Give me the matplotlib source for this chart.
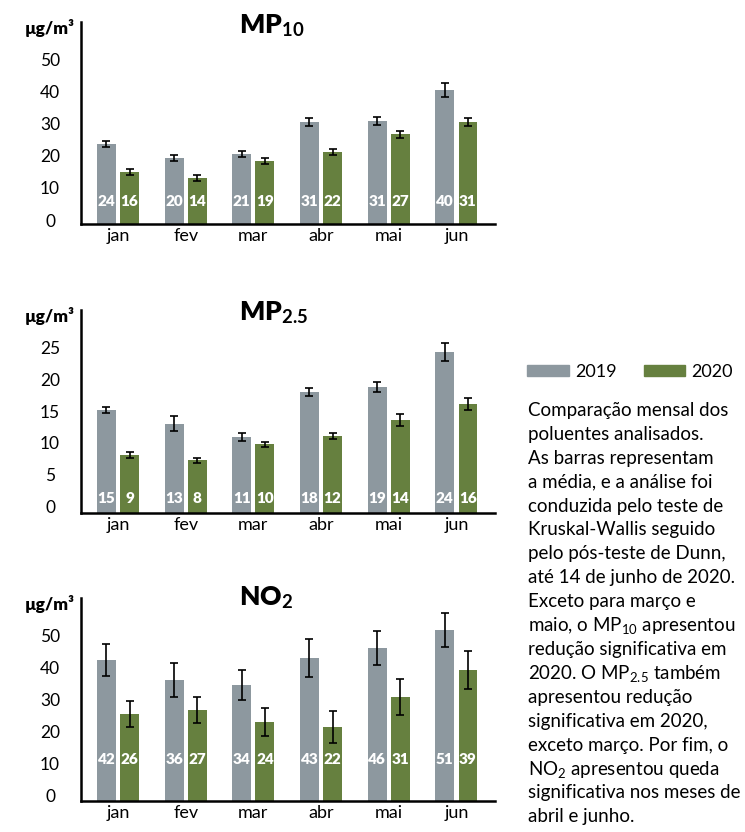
import matplotlib
matplotlib.use("Agg")
import numpy as np
import matplotlib.pyplot as plt
from matplotlib.patches import Patch

plt.rcParams['font.family'] = ['Lato', 'DejaVu Sans']
plt.rcParams['mathtext.fontset'] = 'custom'
plt.rcParams['mathtext.rm'] = 'Lato'
plt.rcParams['mathtext.bf'] = 'Lato:bold'
plt.rcParams['mathtext.it'] = 'Lato:italic'

months = ["jan", "fev", "mar", "abr", "mai", "jun"]
years = ["2019", "2020"]

# MP10 - mean, error, printed value
mp10_2019 = [23.6, 19.3, 20.5, 30.4, 30.7, 40.4]
mp10_2020 = [14.9, 13.0, 18.3, 21.1, 26.7, 30.4]
mp10_err_2019 = [0.9, 0.9, 1.0, 1.35, 1.3, 2.1]
mp10_err_2020 = [0.9, 0.9, 0.85, 0.9, 1.1, 1.2]
mp10_lbl_2019 = [24, 20, 21, 31, 31, 40]
mp10_lbl_2020 = [16, 14, 19, 22, 27, 31]
mp10_ticks = [0, 10, 20, 30, 40, 50]

# MP2.5
mp25_2019 = [15.2, 13.0, 10.9, 18.0, 18.8, 24.3]
mp25_2020 = [8.1, 7.3, 9.8, 11.1, 13.6, 16.1]
mp25_err_2019 = [0.47, 1.15, 0.63, 0.57, 0.81, 1.41]
mp25_err_2020 = [0.52, 0.37, 0.37, 0.45, 0.89, 0.94]
mp25_lbl_2019 = [15, 13, 11, 18, 19, 24]
mp25_lbl_2020 = [9, 8, 10, 12, 14, 16]
mp25_ticks = [0, 5, 10, 15, 20, 25]

# NO2
no2_2019 = [42.4, 36.2, 34.6, 43.0, 46.1, 51.7]
no2_2020 = [25.6, 26.8, 23.1, 21.5, 30.9, 39.3]
no2_err_2019 = [5.0, 5.3, 4.6, 5.9, 5.25, 5.35]
no2_err_2020 = [4.05, 4.15, 4.5, 4.9, 5.6, 6.0]
no2_lbl_2019 = [42, 36, 34, 43, 46, 51]
no2_lbl_2020 = [26, 27, 24, 22, 31, 39]
no2_ticks = [0, 10, 20, 30, 40, 50]

caption_lines = [
    "Comparação mensal dos", "poluentes analisados.", "As barras representam",
    "a média, e a análise foi", "conduzida pelo teste de", "Kruskal-Wallis seguido",
    "pelo pós-teste de Dunn,", "até 14 de junho de 2020.", "Exceto para março e",
    "maio, o MP$_{10}$ apresentou", "redução significativa em", "2020. O MP$_{2.5}$ também",
    "apresentou redução", "significativa em 2020,", "exceto março. Por fim, o",
    "NO$_{2}$ apresentou queda", "significativa nos meses de", "abril e junho.",
]

gray = '#8d989f'
green = '#66803f'

W, H = 745, 832
fig = plt.figure(figsize=(W / 100, H / 100), dpi=100)

panels = [
    dict(title=r"MP$_{\mathbf{10}}$", m=(mp10_2019, mp10_2020), e=(mp10_err_2019, mp10_err_2020),
         lbl=(mp10_lbl_2019, mp10_lbl_2020), ticks=mp10_ticks, ylim=(-1.24, 61.5), label_y=5.6,
         top=22, base=224, title_y=33),
    dict(title=r"MP$_{\mathbf{2.5}}$", m=(mp25_2019, mp25_2020), e=(mp25_err_2019, mp25_err_2020),
         lbl=(mp25_lbl_2019, mp25_lbl_2020), ticks=mp25_ticks, ylim=(-0.94, 30.85), label_y=1.32,
         top=310, base=512.7, title_y=320),
    dict(title=r"NO$_{\mathbf{2}}$", m=(no2_2019, no2_2020), e=(no2_err_2019, no2_err_2020),
         lbl=(no2_lbl_2019, no2_lbl_2020), ticks=no2_ticks, ylim=(-1.47, 61.8), label_y=11.45,
         top=598, base=800.7, title_y=605),
]

x = np.arange(len(months))
bw = 0.28
off = 0.171

for p in panels:
    ax = fig.add_axes([81 / W, 1 - p['base'] / H, (495 - 81) / W, (p['base'] - p['top']) / H])
    lo, hi = p['ylim']
    for k, (col, sign) in enumerate([(gray, -1), (green, 1)]):
        vals = np.array(p['m'][k])
        xs = x + sign * off
        ax.bar(xs, vals - lo, bottom=lo, width=bw, color=col, zorder=2)
        ax.errorbar(xs, vals, yerr=p['e'][k], fmt='none', ecolor='black',
                    elinewidth=1.2, capsize=3, capthick=1.2, zorder=3)
        for xi, v in zip(xs, p['lbl'][k]):
            ax.text(xi, p['label_y'], str(v), ha='center', va='center', color='white',
                    fontweight='heavy', fontsize=11, zorder=4)
    ax.set_xlim(-0.547, 5.57)
    ax.set_ylim(lo, hi)
    ax.set_yticks(p['ticks'])
    ax.set_xticks(x)
    ax.set_xticklabels(months, fontsize=13)
    ax.tick_params(axis='both', length=0)
    ax.tick_params(axis='y', pad=22.3, labelsize=12.5)
    ax.tick_params(axis='x', pad=3)
    for lbl in ax.get_yticklabels():
        lbl.set_ha('center')
    for s in ['top', 'right']:
        ax.spines[s].set_visible(False)
    for s in ['left', 'bottom']:
        ax.spines[s].set_linewidth(1.8)
        ax.spines[s].set_color('black')
    ax.annotate("µg/m³", xy=(0, 1), xycoords='axes fraction', xytext=(-22.5, -4.5),
                textcoords='offset points', ha='center', va='center',
                fontsize=12.5, fontweight='heavy')
    fig.text(239 / W, 1 - p['title_y'] / H, p['title'], ha='left', va='baseline',
             fontsize=19, fontweight='heavy')

fig.legend(handles=[Patch(color=gray, label=years[0]), Patch(color=green, label=years[1])],
           loc='upper left', bbox_to_anchor=(527 / W, 1 - 364 / H), ncol=2, frameon=False,
           fontsize=13, handlelength=2.3, handleheight=0.6, handletextpad=0.35,
           columnspacing=1.5, borderpad=0, borderaxespad=0)

# caption, one line at a time so the subscript lines keep even spacing
for i, line in enumerate(caption_lines):
    fig.text(528 / W, 1 - (416 + 23.9 * i) / H, line, ha='left', va='baseline', fontsize=13.5)

fig.savefig("out.png", dpi=100)
